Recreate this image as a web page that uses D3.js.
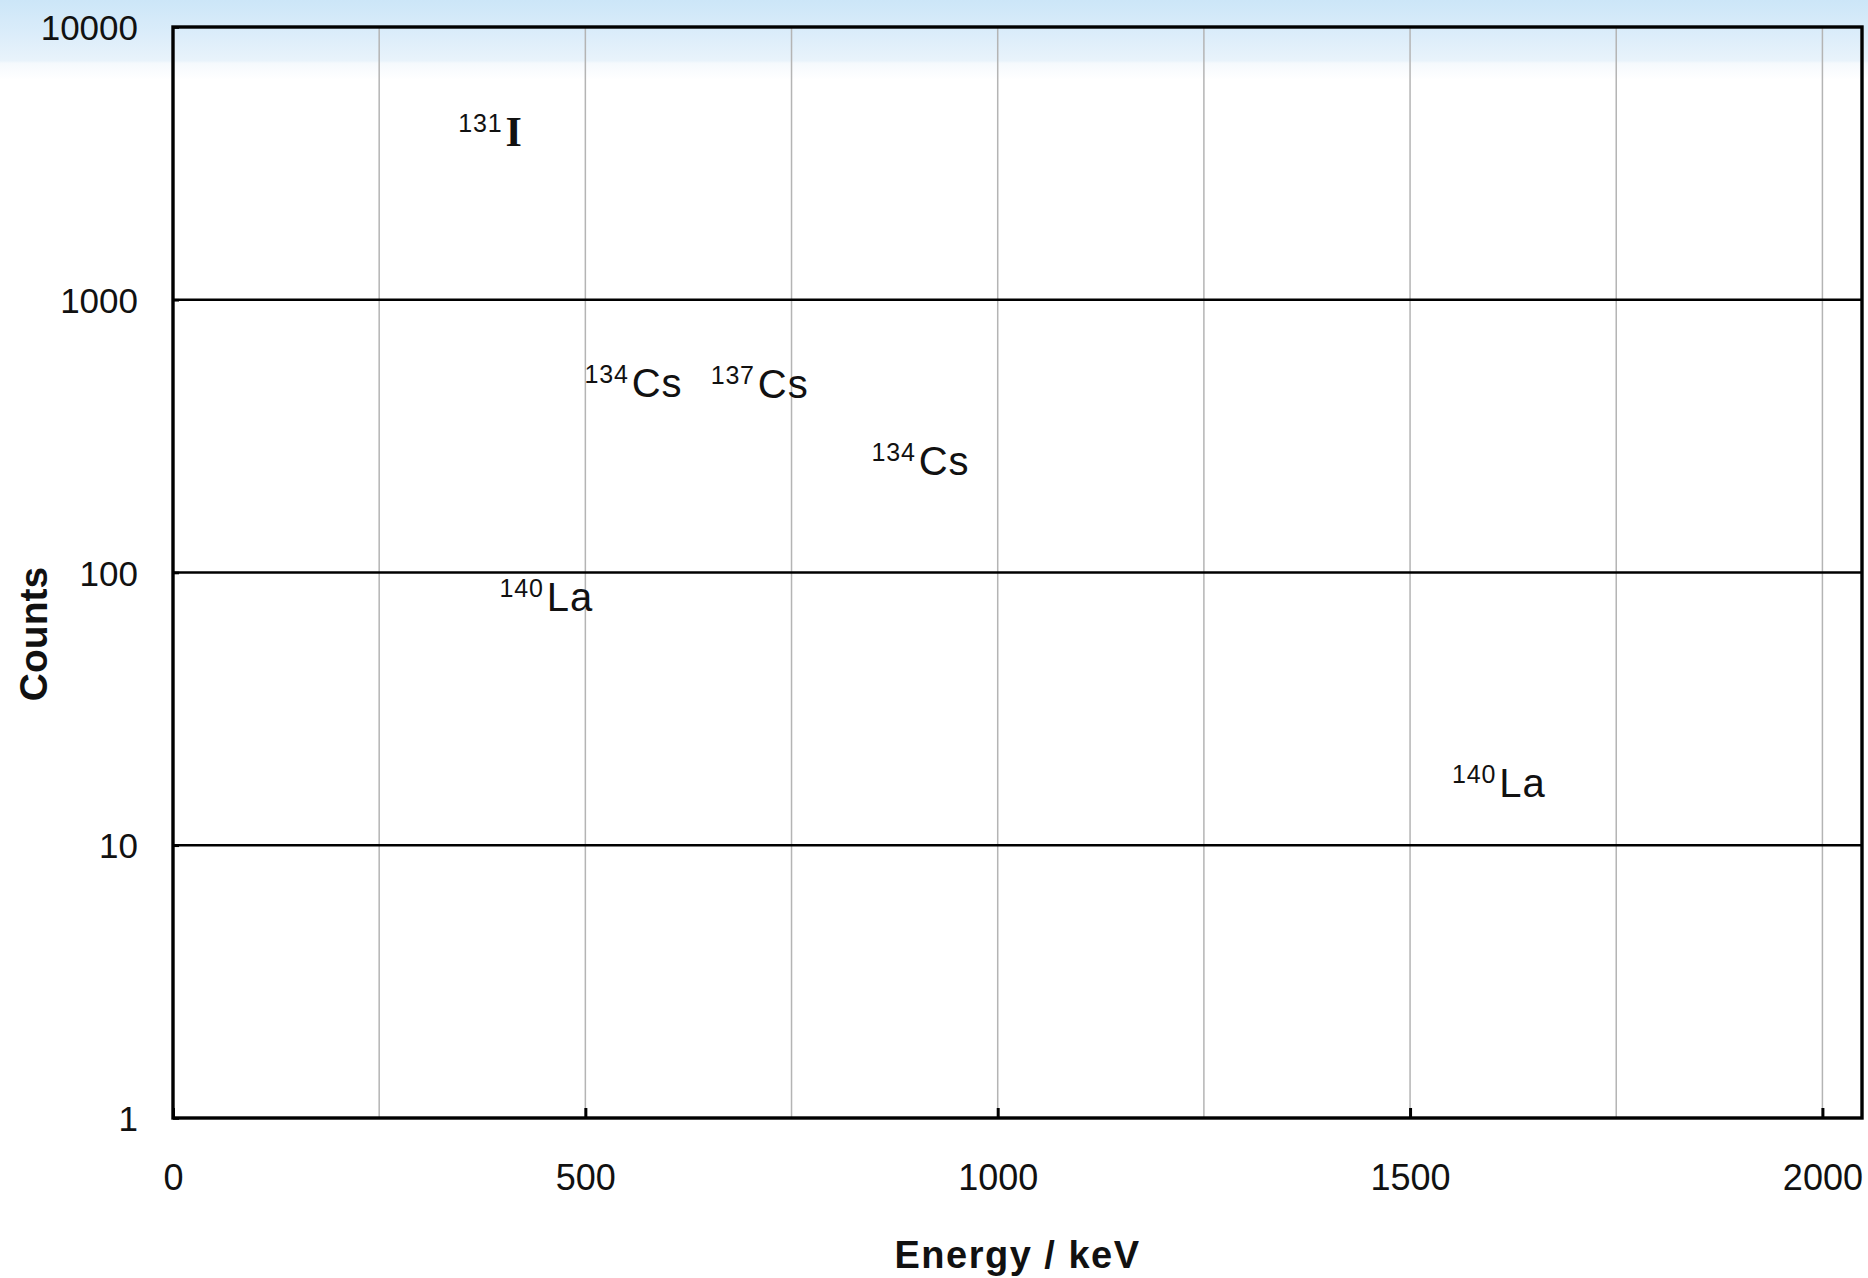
<!DOCTYPE html>
<html>
<head>
<meta charset="utf-8">
<script src="https://cdn.jsdelivr.net/npm/d3@7"></script>
<style>
  html, body { margin: 0; padding: 0; background: #ffffff; }
  svg { display: block; }
  .tick text { font-family: "Liberation Sans", Arial, sans-serif; fill: #111; }
</style>
</head>
<body>
<svg id="chart" width="1868" height="1278"></svg>
<script>
// Gamma-ray spectrum axes with nuclide peak annotations
const xTicks = [0, 500, 1000, 1500, 2000];
const xGrid = [250, 500, 750, 1000, 1250, 1500, 1750, 2000];
const yTicks = [1, 10, 100, 1000, 10000];
const yGrid = [10, 100, 1000];

// Annotation anchors: energy (keV) and count level of each label
const labelMass = ["131", "134", "137", "134", "140", "140"];
const labelElement = ["I", "Cs", "Cs", "Cs", "La", "La"];
const labelEnergy = [346, 499, 652, 847, 396, 1551];
const labelCounts = [3650, 440, 435, 228, 72, 15];

const svg = d3.select("#chart");
const W = 1868, H = 1278;
const margin = { left: 173, top: 27, right: 6, bottom: 160 };

// Pale blue wash across the top of the page
const defs = svg.append("defs");
const grad = defs.append("linearGradient")
  .attr("id", "topWash").attr("x1", 0).attr("y1", 0).attr("x2", 0).attr("y2", 1);
grad.append("stop").attr("offset", "0%").attr("stop-color", "#cce6f8");
grad.append("stop").attr("offset", "45%").attr("stop-color", "#dcedfa");
grad.append("stop").attr("offset", "76%").attr("stop-color", "#e9f3fb");
grad.append("stop").attr("offset", "79%").attr("stop-color", "#f5f9fd");
grad.append("stop").attr("offset", "100%").attr("stop-color", "#ffffff");
svg.append("rect").attr("x", 0).attr("y", 0).attr("width", W).attr("height", 80)
  .attr("fill", "url(#topWash)");

const x = d3.scaleLinear().domain([0, 2048]).range([margin.left, W - margin.right]);
const y = d3.scaleLog().domain([1, 10000]).range([H - margin.bottom, margin.top]);

const x0 = x.range()[0], x1 = x.range()[1];
const yBottom = y.range()[0], yTop = y.range()[1];

// Vertical grid
svg.append("g").selectAll("line").data(xGrid).join("line")
  .attr("x1", d => x(d)).attr("x2", d => x(d))
  .attr("y1", yTop).attr("y2", yBottom)
  .attr("stroke", "#b4b4b4").attr("stroke-width", 1.5);

// Horizontal decade grid
svg.append("g").selectAll("line").data(yGrid).join("line")
  .attr("x1", x0).attr("x2", x1)
  .attr("y1", d => y(d)).attr("y2", d => y(d))
  .attr("stroke", "#000").attr("stroke-width", 2.6);

// Bottom axis with short inward ticks
const xAxis = d3.axisBottom(x).tickValues(xTicks).tickFormat(d3.format("d"))
  .tickSize(-10).tickPadding(0);
const gx = svg.append("g").attr("transform", `translate(0,${yBottom})`).call(xAxis);
gx.select(".domain").remove();
gx.selectAll(".tick line").attr("stroke", "#000").attr("stroke-width", 3);
gx.selectAll(".tick text").attr("font-size", 36).attr("dy", null).attr("y", 72);

// Left axis labels
const yAxis = d3.axisLeft(y).tickValues(yTicks).tickFormat(d3.format("d"))
  .tickSize(-6).tickPadding(0);
const gy = svg.append("g").attr("transform", `translate(${x0},0)`).call(yAxis);
gy.select(".domain").remove();
gy.selectAll(".tick line").attr("stroke", "#000").attr("stroke-width", 2.6);
gy.selectAll(".tick text").attr("font-size", 35).attr("x", -35).attr("dy", "0.36em");

// Plot frame
svg.append("rect")
  .attr("x", x0).attr("y", yTop).attr("width", x1 - x0).attr("height", yBottom - yTop)
  .attr("fill", "none").attr("stroke", "#000").attr("stroke-width", 3.4);

// Nuclide labels: mass number as superscript, then element symbol
const labels = svg.append("g");
labelElement.forEach((el, i) => {
  const t = labels.append("text")
    .attr("x", x(labelEnergy[i])).attr("y", y(labelCounts[i]))
    .attr("fill", "#111")
    .attr("font-family", "'Liberation Sans', Arial, sans-serif");
  t.append("tspan").attr("font-size", 25).attr("dy", -14)
    .attr("letter-spacing", 0.8).text(labelMass[i]);
  const main = t.append("tspan").attr("dy", 14).attr("dx", el === "I" ? 3 : 3).text(el);
  if (el === "I") {
    main.attr("font-family", "'Liberation Serif', 'DejaVu Serif', serif")
      .attr("font-weight", "bold").attr("font-size", 42);
  } else {
    main.attr("font-size", 40).attr("letter-spacing", 1);
  }
});

// Axis titles
svg.append("text")
  .attr("x", (x0 + x1) / 2).attr("y", 1268)
  .attr("text-anchor", "middle")
  .attr("font-family", "'Liberation Sans', Arial, sans-serif")
  .attr("font-weight", "bold").attr("font-size", 38).attr("letter-spacing", 1.5)
  .attr("fill", "#111")
  .text("Energy / keV");

svg.append("text")
  .attr("transform", `translate(47,${634}) rotate(-90)`)
  .attr("text-anchor", "middle")
  .attr("font-family", "'Liberation Sans', Arial, sans-serif")
  .attr("font-weight", "bold").attr("font-size", 39)
  .attr("fill", "#111")
  .text("Counts");
</script>
</body>
</html>
